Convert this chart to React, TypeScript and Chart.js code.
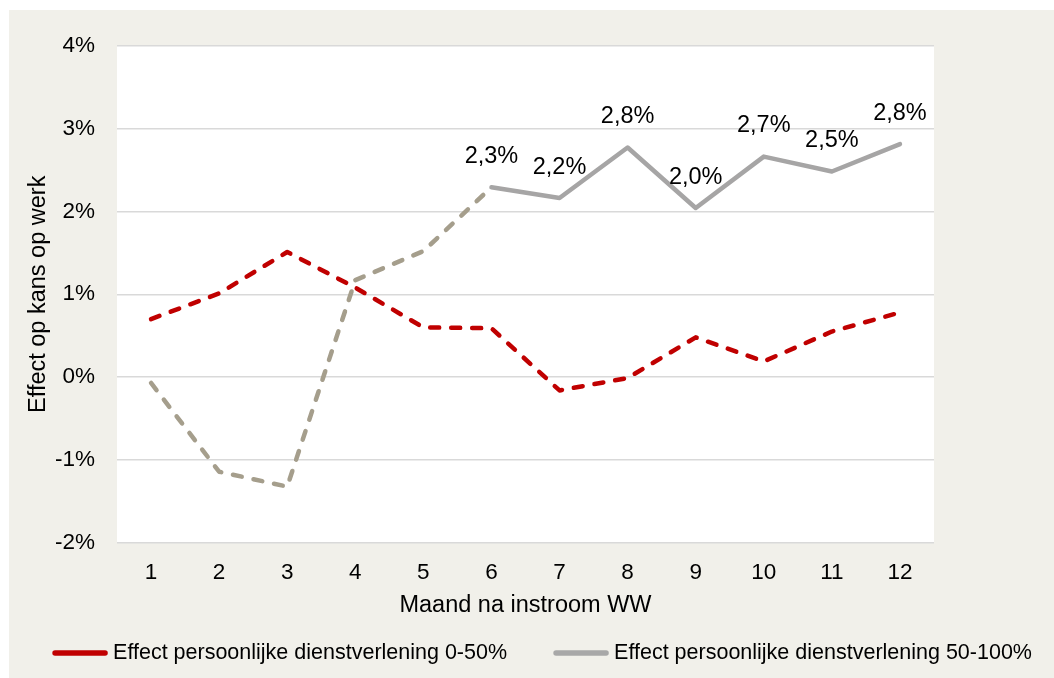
import React, { useEffect, useRef } from 'react';
import { Chart, registerables } from 'chart.js';

Chart.register(...registerables);

// ---- data ----
const months = ['1', '2', '3', '4', '5', '6', '7', '8', '9', '10', '11', '12'];
const effectLow = [0.7, 1.01, 1.51, 1.08, 0.6, 0.59, -0.16, -0.01, 0.48, 0.19, 0.55, 0.78];
const effectHigh = [-0.07, -1.14, -1.32, 1.17, 1.52, 2.29, 2.16, 2.77, 2.04, 2.66, 2.48, 2.81];
const seriesLabels = [
  'Effect persoonlijke dienstverlening 0-50%',
  'Effect persoonlijke dienstverlening 50-100%',
];
const yMin = -2;
const yMax = 4;
const yStep = 1;
const xTitle = 'Maand na instroom WW';
const yTitle = 'Effect op kans op werk';
const firstLabelledIndex = 5; // data labels shown from month 6 on
const dashedSegmentsBefore = 5; // gray series dashed up to month 6

// ---- styles ----
const FONT = "'Liberation Sans', Arial, sans-serif";
const RED = '#c00000';
const GRAY_DASH = '#a59e8c';
const GRAY_SOLID = '#a6a5a5';
const LEGEND_COLORS = [RED, '#a8a8a8'];
const BG = '#f1f0ea';

const chartAreaBg = {
  id: 'chartAreaBg',
  beforeDraw(chart: any) {
    const { ctx, chartArea } = chart;
    if (!chartArea) return;
    ctx.save();
    ctx.fillStyle = '#ffffff';
    ctx.fillRect(chartArea.left, chartArea.top, chartArea.right - chartArea.left, chartArea.bottom - chartArea.top);
    ctx.restore();
  },
};

const dataLabels = {
  id: 'dataLabels',
  afterDatasetsDraw(chart: any) {
    const meta = chart.getDatasetMeta(1);
    const values = chart.data.datasets[1].data as number[];
    const ctx = chart.ctx;
    ctx.save();
    ctx.font = `23.5px ${FONT}`;
    ctx.fillStyle = '#000';
    ctx.textAlign = 'center';
    ctx.textBaseline = 'middle';
    meta.data.forEach((pt: any, i: number) => {
      if (i < firstLabelledIndex) return;
      const txt = values[i].toFixed(1).replace('.', ',') + '%';
      ctx.fillText(txt, pt.x, pt.y - 31);
    });
    ctx.restore();
  },
};

const bottomLegend = {
  id: 'bottomLegend',
  afterDraw(chart: any) {
    const ctx = chart.ctx;
    ctx.save();
    ctx.font = `21.5px ${FONT}`;
    const sample = 56;
    const gapText = 5;
    const gapItem = 46;
    const items = chart.data.datasets.map((ds: any, i: number) => ({ text: ds.label, color: LEGEND_COLORS[i] }));
    const widths = items.map((it: any) => sample + gapText + ctx.measureText(it.text).width);
    const total = widths.reduce((a: number, b: number) => a + b, 0) + gapItem * (items.length - 1);
    let x = 533 - total / 2;
    const y = 643;
    items.forEach((it: any, i: number) => {
      ctx.strokeStyle = it.color;
      ctx.lineWidth = 5.5;
      ctx.lineCap = 'round';
      ctx.beginPath();
      ctx.moveTo(x + 3, y);
      ctx.lineTo(x + sample - 3, y);
      ctx.stroke();
      ctx.fillStyle = '#000';
      ctx.textAlign = 'left';
      ctx.textBaseline = 'middle';
      ctx.fillText(it.text, x + sample + gapText, y);
      x += widths[i] + gapItem;
    });
    ctx.restore();
  },
};

export default function App() {
  const canvasRef = useRef<HTMLCanvasElement | null>(null);

  useEffect(() => {
    if (!canvasRef.current) return;
    Chart.defaults.font.family = FONT;
    Chart.defaults.color = '#000';
    const chart = new Chart(canvasRef.current, {
      type: 'line',
      data: {
        labels: months,
        datasets: [
          {
            label: seriesLabels[0],
            data: effectLow,
            borderColor: RED,
            borderWidth: 4.5,
            borderDash: [9, 12],
            borderCapStyle: 'round',
            borderJoinStyle: 'round',
            pointRadius: 0,
            tension: 0,
            fill: false,
          },
          {
            label: seriesLabels[1],
            data: effectHigh,
            borderColor: GRAY_SOLID,
            borderWidth: 4.5,
            borderDash: [],
            borderCapStyle: 'round',
            borderJoinStyle: 'round',
            pointRadius: 0,
            tension: 0,
            fill: false,
            segment: {
              borderColor: (c: any) => (c.p0DataIndex < dashedSegmentsBefore ? GRAY_DASH : GRAY_SOLID),
              borderDash: (c: any) => (c.p0DataIndex < dashedSegmentsBefore ? [9, 12] : []),
            },
          },
        ],
      },
      options: {
        animation: false,
        responsive: true,
        maintainAspectRatio: false,
        layout: { padding: { top: 34, right: 120, bottom: 50, left: 0 } },
        plugins: {
          legend: { display: false },
          tooltip: { enabled: false },
        },
        scales: {
          x: {
            offset: true,
            grid: { display: false, drawTicks: false },
            border: { display: false },
            ticks: { color: '#000', font: { size: 22.5, family: FONT }, padding: 16 },
            title: {
              display: true,
              text: xTitle,
              color: '#000',
              font: { size: 23.5, family: FONT },
              padding: { top: 0, bottom: 8 },
            },
            afterFit: (s: any) => {
              s.height = 85;
            },
          },
          y: {
            min: yMin,
            max: yMax,
            ticks: {
              stepSize: yStep,
              color: '#000',
              font: { size: 22.5, family: FONT },
              padding: 22,
              callback: (v: any) => `${v}%`,
            },
            grid: { color: '#d9d9d9', lineWidth: 1.5, drawTicks: false },
            border: { display: false },
            title: {
              display: true,
              text: yTitle,
              color: '#000',
              font: { size: 23.5, family: FONT },
              padding: { top: 15, bottom: 0 },
            },
            afterFit: (s: any) => {
              s.width = 108;
            },
          },
        },
      },
      plugins: [chartAreaBg, dataLabels, bottomLegend],
    });
    return () => chart.destroy();
  }, []);

  return (
    <div
      style={{
        position: 'absolute',
        left: 9,
        top: 10,
        width: 1045,
        height: 668,
        background: BG,
      }}
    >
      <canvas ref={canvasRef} />
    </div>
  );
}
